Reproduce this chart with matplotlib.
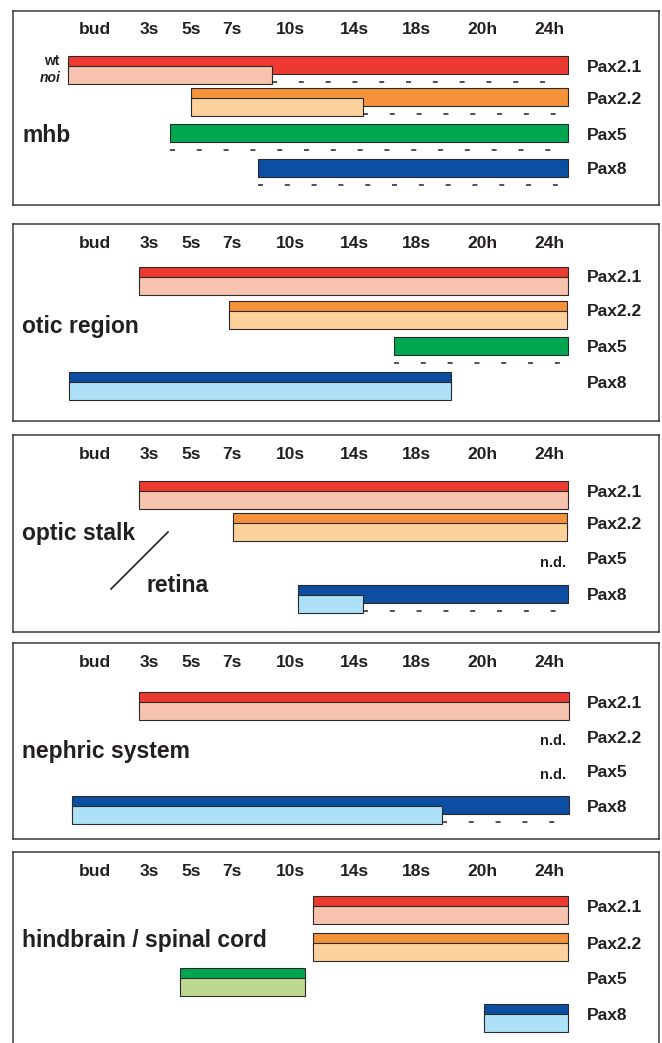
import matplotlib.pyplot as plt

plt.rcParams['font.family'] = ['Liberation Sans', 'DejaVu Sans']
plt.rcParams['lines.scale_dashes'] = False

# stage axis (timeline units, same for every panel)
stages = ["bud", "3s", "5s", "7s", "10s", "14s", "18s", "20h", "24h"]
stage_pos = [95, 149, 191, 232, 290, 354, 416, 482, 549]
genes = ["Pax2.1", "Pax2.2", "Pax5", "Pax8"]
regions = ["mhb", "otic region", "optic stalk", "nephric system", "hindbrain / spinal cord"]

# expression windows per gene (start, end); None = no bar
# wt = wild type, noi = no isthmus mutant, lost = start of "absent in noi" dashes
wt_mhb = [(68, 568), (191, 568), (170, 568), (258, 568)]
noi_mhb = [(68, 272), (191, 363), None, None]
lost_mhb = [272, 363, 170, 258]

wt_otic = [(139, 568), (229, 567), (394, 568), (69, 451)]
noi_otic = [(139, 568), (229, 567), None, (69, 451)]
lost_otic = [None, None, 394, None]

wt_optic = [(139, 568), (233, 567), None, (298, 568)]
noi_optic = [(139, 568), (233, 567), None, (298, 363)]
lost_optic = [None, None, None, 363]

wt_neph = [(139, 569), None, None, (72, 569)]
noi_neph = [(139, 569), None, None, (72, 442)]
lost_neph = [None, None, None, 442]

wt_hind = [(313, 568), (313, 568), (180, 305), (484, 568)]
noi_hind = [(313, 568), (313, 568), (180, 305), (484, 568)]
lost_hind = [None, None, None, None]

nd_optic = [False, False, True, False]
nd_neph = [False, True, True, False]
nd_none = [False, False, False, False]

wt_colors = ["#ec3a31", "#f5923a", "#00a650", "#0b4ea2"]
noi_colors = ["#f8c3ae", "#fdd19b", "#bcd98f", "#ade1f8"]
ink = "#231f20"

panels = [
    (regions[0], wt_mhb, noi_mhb, lost_mhb, nd_none),
    (regions[1], wt_otic, noi_otic, lost_otic, nd_none),
    (regions[2], wt_optic, noi_optic, lost_optic, nd_optic),
    (regions[3], wt_neph, noi_neph, lost_neph, nd_neph),
    (regions[4], wt_hind, noi_hind, lost_hind, nd_none),
]

# layout in pixels
W, H = 662, 1043
box_top = [11, 224, 435, 643, 852]
box_h = [194, 197, 197, 196, 196]
row_tops = [[45, 77, 113, 148], [43, 77, 113, 148], [46, 78, 114, 150],
            [49, 84, 118, 153], [44, 81, 116, 152]]
region_y = [124, 102, 98, 108, 88]
x0, x1 = 13, 659

fig = plt.figure(figsize=(W / 100, H / 100), dpi=100)

for i, (name, wt, noi, lost, nd) in enumerate(panels):
    top, h = box_top[i], box_h[i]
    ax = fig.add_axes([x0 / W, 1 - (top + h) / H, (x1 - x0) / W, h / H])
    ax.set_xlim(x0, x1)
    ax.set_ylim(h, 0)
    ax.set_xticks([])
    ax.set_yticks([])
    for s in ax.spines.values():
        s.set_color("#3a3a3a")
        s.set_linewidth(1.1)

    for lab, xp in zip(stages, stage_pos):
        ax.text(xp, 19, lab, ha="center", va="center", fontsize=12.5,
                fontweight="bold", color=ink)

    for g in range(4):
        t = row_tops[i][g]
        if wt[g] is not None:
            a, b = wt[g]
            ax.barh(t, b - a, left=a, height=18, align="edge",
                    color=wt_colors[g], edgecolor="#2a2a2a", linewidth=0.8)
        if noi[g] is not None:
            a, b = noi[g]
            ax.barh(t + 10, b - a, left=a, height=18, align="edge",
                    color=noi_colors[g], edgecolor="#2a2a2a", linewidth=0.8)
        if lost[g] is not None:
            ax.plot([lost[g], 560], [t + 26, t + 26], color=ink, lw=1.1,
                    linestyle=(0, (3.6, 15.7)), solid_capstyle="butt")
        if nd[g]:
            ax.text(566, t + 14, "n.d.", ha="right", va="center",
                    fontsize=10.5, fontweight="bold", color=ink)
        ax.text(587, t + 11, genes[g], ha="left", va="center",
                fontsize=12.5, fontweight="bold", color=ink)

    if i == 2:
        ax.text(22, region_y[i], "optic stalk", ha="left", va="center",
                fontsize=16.5, fontweight="bold", color=ink)
        ax.text(147, 150, "retina", ha="left", va="center",
                fontsize=16.5, fontweight="bold", color=ink)
        ax.plot([111, 168], [154, 97], color=ink, lw=1.2)
    else:
        ax.text(22, region_y[i], name, ha="left", va="center",
                fontsize=16.5, fontweight="bold", color=ink)

    if i == 0:
        ax.text(59, 50, "wt", ha="right", va="center", fontsize=10,
                fontweight="bold", color=ink)
        ax.text(61, 67, "noi", ha="right", va="center", fontsize=10,
                fontweight="bold", fontstyle="italic", color=ink)

fig.savefig("out.png", dpi=100)
